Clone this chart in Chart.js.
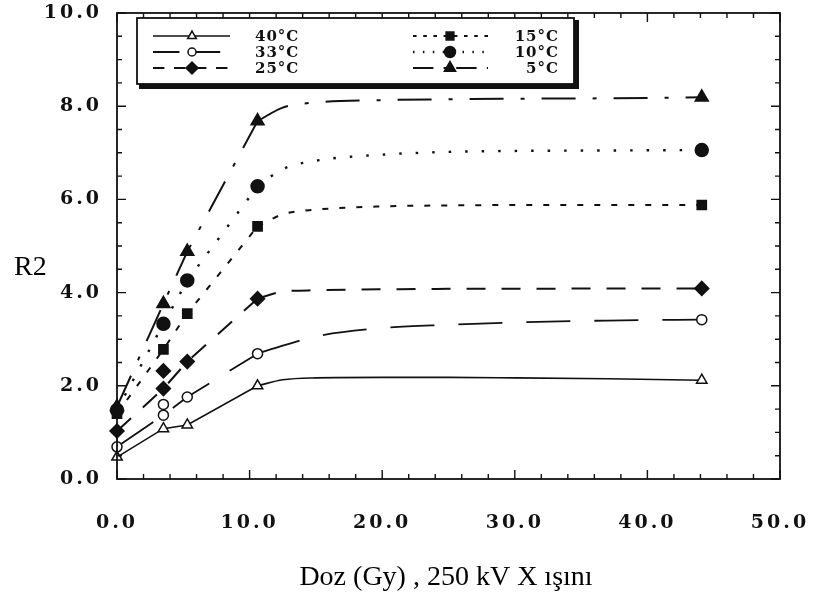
<!DOCTYPE html>
<html>
<head>
<meta charset="utf-8">
<script src="https://cdn.jsdelivr.net/npm/chart.js@4.4.1/dist/chart.umd.min.js"></script>
<style>
    html, body { margin: 0; padding: 0; background: #fff; }
    #wrap { width: 816px; height: 615px; }
</style>
</head>
<body>
<div id="wrap"><canvas id="r2-chart"></canvas></div>
<script>
// =====================================================
// R2 vs dose, one series per irradiation temperature
// =====================================================

// doses where R2 was measured (Gy)
const doses = [0, 3.5, 5.3, 10.6, 44.1];
const temps = ['40°C', '33°C', '25°C', '15°C', '10°C', '5°C'];

// measured points
const r2_40 = [0.47, 1.08, 1.16, 2.0, 2.12];
const r2_33 = [0.69, 1.37, 1.76, 2.69, 3.42];
const r2_25 = [1.03, 1.94, 2.52, 3.87, 4.09];
const r2_15 = [1.40, 2.78, 3.55, 5.42, 5.88];
const r2_10 = [1.48, 3.33, 4.26, 6.28, 7.06];
const r2_5 = [1.55, 3.76, 4.88, 7.68, 8.19];

// second readings at 3.5 Gy
const repDose = [3.5];
const rep_33 = [1.60];
const rep_25 = [2.32];

// fitted curves (rising part is drawn straight)
const riseDoses = [0, 3.5, 5.3, 10.6];
const flatDoses = [10.6, 12.5, 15, 20, 25, 30, 37, 44.1];
const fit_40 = [0.47, 1.08, 1.16, 2.0, 2.13, 2.17, 2.18, 2.18, 2.17, 2.15, 2.12];
const fit_33 = [0.69, 1.37, 1.76, 2.69, 2.86, 3.06, 3.24, 3.31, 3.36, 3.40, 3.42];
const fit_25 = [1.03, 1.94, 2.52, 3.87, 4.02, 4.05, 4.07, 4.08, 4.08, 4.09, 4.09];
const fit_15 = [1.40, 2.78, 3.55, 5.42, 5.68, 5.78, 5.85, 5.87, 5.88, 5.88, 5.88];
const fit_10 = [1.48, 3.33, 4.26, 6.28, 6.65, 6.83, 6.96, 7.02, 7.04, 7.05, 7.06];
const fit_5 = [1.55, 3.76, 4.88, 7.68, 7.97, 8.08, 8.13, 8.15, 8.16, 8.17, 8.19];

const INK = '#111';
const FIG_FONT = '"DejaVu Serif", serif';

// marker + line look for each temperature (same order as temps)
const looks = [
    { pointStyle: 'triangle', radius: 6, open: true, dash: [], width: 1.6 },
    { pointStyle: 'circle', radius: 5, open: true, dash: [44, 24], width: 1.8 },
    { pointStyle: 'rectRot', radius: 7, open: false, dash: [19, 16], width: 2 },
    { pointStyle: 'rect', radius: 6.5, open: false, dash: [6, 11], width: 2 },
    { pointStyle: 'circle', radius: 6.5, open: false, dash: [2.5, 14], width: 2.4 },
    { pointStyle: 'triangle', radius: 7.5, open: false, dash: [34, 17, 4, 17], width: 2 }
];

const measured = [r2_40, r2_33, r2_25, r2_15, r2_10, r2_5];
const fitted = [fit_40, fit_33, fit_25, fit_15, fit_10, fit_5];
const replicates = [null, rep_33, rep_25, null, null, null];

const pts = (xs, ys) => xs.map((d, i) => ({ x: d, y: ys[i] }));

const datasets = [];
temps.forEach((t, i) => {
    const lk = looks[i];
    const fit = fitted[i];
    const lineBase = {
        showLine: true,
        borderColor: INK,
        borderWidth: lk.width,
        borderDash: lk.dash,
        pointRadius: 0,
        fill: false,
        clip: false,
        order: 1
    };
    datasets.push({ ...lineBase, label: t + ' rise', data: pts(riseDoses, fit), tension: 0 });
    datasets.push({
        ...lineBase, label: t + ' plateau',
        data: pts(flatDoses, fit.slice(riseDoses.length - 1)),
        cubicInterpolationMode: 'monotone'
    });
    const markerPts = pts(doses, measured[i]);
    if (replicates[i]) markerPts.push(...pts(repDose, replicates[i]));
    datasets.push({
        label: t,
        data: markerPts,
        showLine: false,
        pointStyle: lk.pointStyle,
        pointRadius: lk.radius,
        pointBackgroundColor: lk.open ? '#fff' : INK,
        pointBorderColor: INK,
        pointBorderWidth: 1.5,
        clip: false,
        order: 0
    });
});

// box, inward ticks, legend and axis titles
const figurePlugin = {
    id: 'figure',
    beforeDraw(chart) {
        chart.ctx.letterSpacing = '3px';
    },
    afterDraw(chart) {
        const { ctx, chartArea: a, scales: { x, y } } = chart;
        ctx.save();
        ctx.letterSpacing = '0px';
        ctx.strokeStyle = INK;
        ctx.lineWidth = 1.8;
        ctx.setLineDash([]);
        ctx.strokeRect(a.left, a.top, a.right - a.left, a.bottom - a.top);

        ctx.lineWidth = 1.4;
        ctx.beginPath();
        for (let k = 0; k <= 25; k++) {
            const px = x.getPixelForValue(k * 2);
            const len = k % 5 === 0 ? 9 : 5;
            ctx.moveTo(px, a.bottom); ctx.lineTo(px, a.bottom - len);
            ctx.moveTo(px, a.top); ctx.lineTo(px, a.top + len);
        }
        for (let k = 0; k <= 20; k++) {
            const py = y.getPixelForValue(k * 0.5);
            const len = k % 4 === 0 ? 9 : 5;
            ctx.moveTo(a.left, py); ctx.lineTo(a.left + len, py);
            ctx.moveTo(a.right, py); ctx.lineTo(a.right - len, py);
        }
        ctx.stroke();

        // legend box with heavy shadow edge
        const bx = 137, by = 18, bw = 437, bh = 66;
        ctx.fillStyle = '#fff';
        ctx.fillRect(bx, by, bw, bh);
        ctx.fillStyle = INK;
        ctx.fillRect(bx + bw, by + 2, 5, bh + 3);
        ctx.fillRect(bx + 2, by + bh, bw + 3, 5);
        ctx.lineWidth = 1.8;
        ctx.strokeRect(bx, by, bw, bh);

        const rows = [36, 52, 68];
        temps.forEach((t, i) => {
            const lk = looks[i];
            const col = i < 3 ? 0 : 1;
            const ry = rows[i % 3];
            const x0 = col ? 413 : 153, x1 = col ? 488 : 230, mx = col ? 450 : 192;
            ctx.setLineDash(lk.dash.map(d => d * 0.6));
            ctx.lineWidth = lk.width;
            ctx.beginPath();
            ctx.moveTo(x0, ry); ctx.lineTo(x1, ry);
            ctx.stroke();
            ctx.setLineDash([]);
            ctx.lineWidth = 1.5;
            ctx.fillStyle = lk.open ? '#fff' : INK;
            Chart.helpers.drawPoint(ctx, { pointStyle: lk.pointStyle, radius: lk.radius - 1, rotation: 0, borderWidth: 1.5 }, mx, ry);
            ctx.fillStyle = INK;
            ctx.letterSpacing = '1px';
            ctx.font = 'bold 15px ' + FIG_FONT;
            ctx.textBaseline = 'middle';
            if (col) {
                ctx.textAlign = 'right';
                ctx.fillText(t, 559, ry + 1);
            } else {
                ctx.textAlign = 'left';
                ctx.fillText(t, 255, ry + 1);
            }
        });

        // axis titles
        ctx.letterSpacing = '0px';
        ctx.fillStyle = '#000';
        ctx.font = '28px "Liberation Serif", "Times New Roman", serif';
        ctx.textBaseline = 'middle';
        ctx.textAlign = 'left';
        ctx.fillText('R2', 14, 268);
        ctx.textAlign = 'center';
        ctx.fillText('Doz (Gy) , 250 kV X ışını', 446, 578);
        ctx.restore();
    }
};

new Chart(document.getElementById('r2-chart'), {
    type: 'scatter',
    data: { datasets },
    plugins: [figurePlugin],
    options: {
        responsive: true, maintainAspectRatio: false,
        animation: false,
        layout: { padding: { top: 13, right: 36, left: 0, bottom: 0 } },
        plugins: { legend: { display: false }, tooltip: { enabled: false } },
        scales: {
            x: {
                type: 'linear', min: 0, max: 50,
                grid: { display: false }, border: { display: false },
                ticks: {
                    stepSize: 10, padding: 25, color: INK,
                    font: { family: FIG_FONT, size: 19, weight: 'bold' },
                    callback: v => v.toFixed(1)
                },
                afterFit: s => { s.height = 136; s.paddingLeft = 0; s.paddingRight = 0; }
            },
            y: {
                type: 'linear', min: 0, max: 10,
                grid: { display: false }, border: { display: false },
                ticks: {
                    stepSize: 2, padding: 7, color: INK,
                    font: { family: FIG_FONT, size: 19, weight: 'bold' },
                    callback: v => v.toFixed(1)
                },
                afterFit: s => { s.width = 117; s.paddingTop = 0; s.paddingBottom = 0; }
            }
        }
    }
});
</script>
</body>
</html>
